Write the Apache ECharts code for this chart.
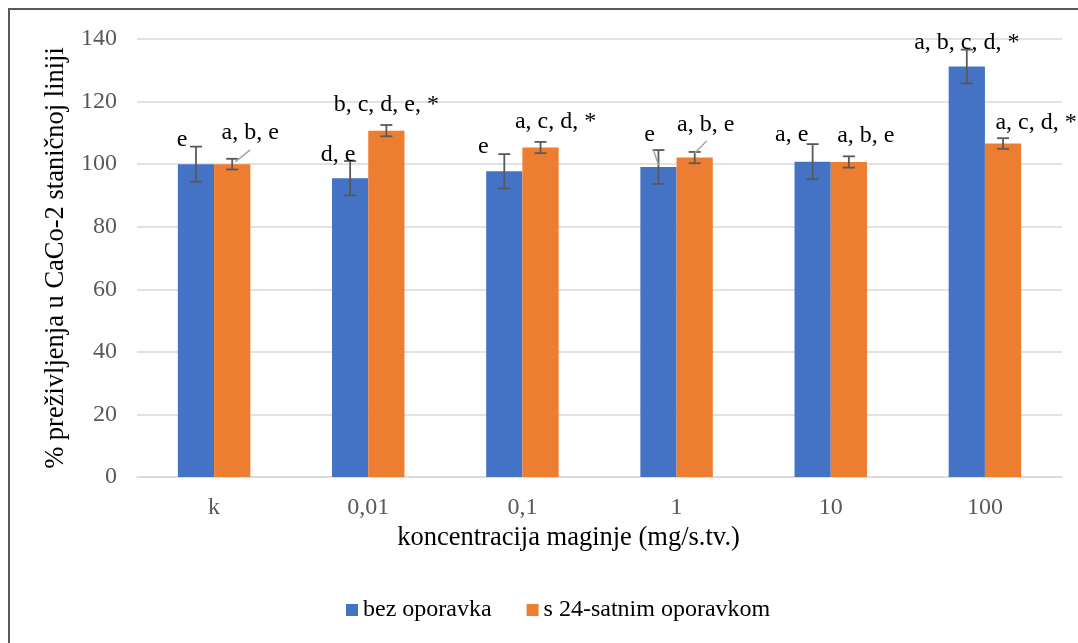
<!DOCTYPE html>
<html>
<head>
<meta charset="utf-8">
<script src="https://cdn.jsdelivr.net/npm/echarts@6/dist/echarts.min.js"></script>
<style>
html,body{margin:0;padding:0;background:#fff;}
#chart{width:1078px;height:643px;}
</style>
</head>
<body>
<div id="chart"></div>
<script>
// ---- data ----
var categories = ['k', '0,01', '0,1', '1', '10', '100'];
var seriesNames = ['bez oporavka', 's 24-satnim oporavkom'];
var bezOporavka = [100, 95.5, 97.7, 99.1, 100.8, 131.2];
var bezOporavkaErr = [5.6, 5.5, 5.5, 5.4, 5.6, 5.4];
var sOporavkom = [100, 110.7, 105.3, 102.1, 100.7, 106.6];
var sOporavkomErr = [1.7, 1.8, 1.8, 1.8, 1.8, 1.7];
var bezLabels = ['e', 'd, e', 'e', 'e', 'a, e', 'a, b, c, d, *'];
var sLabels = ['a, b, e', 'b, c, d, e, *', 'a, c, d, *', 'a, b, e', 'a, b, e', 'a, c, d, *'];
var yTicks = {min: 0, max: 140, interval: 20};

// ---- label layout (pixel offsets from error-bar top) ----
var bezLabelPos = [[-14, -7], [-12, -6], [-21, -7], [-9, -15], [-21, -9], [0, -7]];
var sLabelPos = [[18, -26], [0, -20], [15, -20], [11, -27], [17, -21], [33, -15]];
// leader lines: [x1,y1,x2,y2] offsets from error-bar top, or null
var bezLeaders = [null, null, null, [-5, 0, 0, 15], null, null];
var sLeaders = [[18, -9, 3, 3], null, null, [12, -11, 0, 1], null, null];

var FONT = 'Liberation Serif';
var BLUE = '#4472C4', ORANGE = '#ED7D31';
var BAR_FRAC = 0.235;

function errData(vals, errs) {
  return vals.map(function (v, i) { return [i, v, errs[i]]; });
}

function makeErrSeries(name, vals, errs, labels, side, labelPos, leaders) {
  return {
    type: 'custom',
    name: name + '_err',
    z: 5,
    silent: true,
    data: errData(vals, errs),
    renderItem: function (params, api) {
      var i = api.value(0), v = api.value(1), e = api.value(2);
      var band = api.size([1, 0])[0];
      var bw = band * BAR_FRAC;
      var c = api.coord([i, v]);
      var x = c[0] + side * bw / 2;
      var top = api.coord([i, v + e])[1];
      var bot = api.coord([i, v - e])[1];
      var cap = 6;
      var st = {stroke: '#595959', lineWidth: 1.8};
      var children = [
        {type: 'line', shape: {x1: x, y1: top, x2: x, y2: bot}, style: st},
        {type: 'line', shape: {x1: x - cap, y1: top, x2: x + cap, y2: top}, style: st},
        {type: 'line', shape: {x1: x - cap, y1: bot, x2: x + cap, y2: bot}, style: st}
      ];
      var lp = labelPos[i];
      children.push({
        type: 'text',
        z2: 10,
        style: {
          text: labels[i], x: x + lp[0], y: top + lp[1],
          align: 'center', verticalAlign: 'middle',
          fontFamily: FONT, fontSize: 24, fill: '#000'
        }
      });
      var ld = leaders[i];
      if (ld) {
        children.push({
          type: 'line',
          shape: {x1: x + ld[0], y1: top + ld[1], x2: x + ld[2], y2: top + ld[3]},
          style: {stroke: '#a6a6a6', lineWidth: 1.5}
        });
      }
      return {type: 'group', children: children};
    }
  };
}

var chart = echarts.init(document.getElementById('chart'));
chart.setOption({
  animation: false,
  backgroundColor: '#fff',
  textStyle: {fontFamily: FONT},
  graphic: [{
    type: 'rect',
    shape: {x: 9, y: 9, width: 1300, height: 1000},
    style: {fill: 'none', stroke: '#595959', lineWidth: 2},
    z: -10, silent: true
  }],
  grid: {left: 137, right: 16, top: 39, bottom: 166},
  legend: {
    data: seriesNames,
    bottom: 16,
    left: 341,
    icon: 'rect',
    itemWidth: 12,
    itemHeight: 12,
    itemGap: 35,
    textStyle: {fontFamily: FONT, fontSize: 24, color: '#000'}
  },
  xAxis: {
    type: 'category',
    data: categories,
    name: 'koncentracija maginje (mg/s.tv.)',
    nameLocation: 'middle',
    nameGap: 45,
    nameTextStyle: {fontFamily: FONT, fontSize: 26.5, color: '#000', padding: [0, 62, 0, 0]},
    axisLine: {lineStyle: {color: '#d9d9d9', width: 1.5}},
    axisTick: {show: false},
    axisLabel: {fontFamily: FONT, fontSize: 24, color: '#595959', margin: 19}
  },
  yAxis: {
    type: 'value',
    min: yTicks.min, max: yTicks.max, interval: yTicks.interval,
    name: '% preživljenja u CaCo-2 staničnoj liniji',
    nameLocation: 'middle',
    nameGap: 67,
    nameRotate: 90,
    nameTextStyle: {fontFamily: FONT, fontSize: 26.5, color: '#000'},
    axisLine: {show: false},
    axisTick: {show: false},
    axisLabel: {fontFamily: FONT, fontSize: 24, color: '#595959', margin: 20},
    splitLine: {lineStyle: {color: '#d9d9d9', width: 1.5}}
  },
  series: [
    {
      type: 'bar', name: seriesNames[0], data: bezOporavka,
      barWidth: (BAR_FRAC * 100) + '%', barGap: '0%',
      itemStyle: {color: BLUE}
    },
    {
      type: 'bar', name: seriesNames[1], data: sOporavkom,
      barWidth: (BAR_FRAC * 100) + '%', barGap: '0%',
      itemStyle: {color: ORANGE}
    },
    makeErrSeries(seriesNames[0], bezOporavka, bezOporavkaErr, bezLabels, -1, bezLabelPos, bezLeaders),
    makeErrSeries(seriesNames[1], sOporavkom, sOporavkomErr, sLabels, 1, sLabelPos, sLeaders)
  ]
});
</script>
</body>
</html>
